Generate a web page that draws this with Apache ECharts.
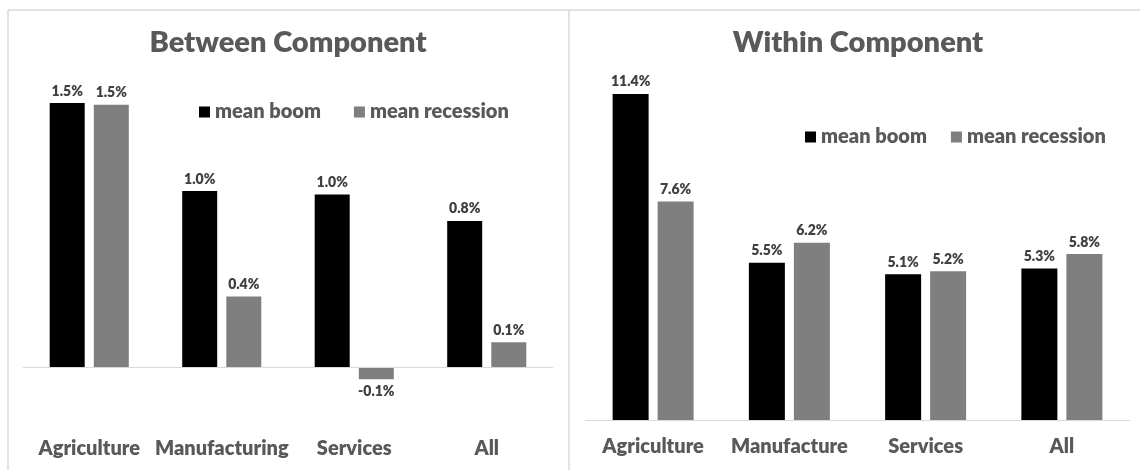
<!DOCTYPE html>
<html>
<head>
<meta charset="utf-8">
<script src="https://cdn.jsdelivr.net/npm/echarts@6/dist/echarts.min.js"></script>
<style>
  html, body { margin: 0; padding: 0; background: #ffffff; }
  #chart { width: 1140px; height: 470px; }
</style>
</head>
<body>
<div id="chart"></div>
<script>
// Between component: contribution of reallocation across sectors (%)
const betweenCategories = ['Agriculture', 'Manufacturing', 'Services', 'All'];
const betweenBoom = [1.50, 1.00, 0.98, 0.83];
const betweenRecession = [1.49, 0.40, -0.07, 0.14];

// Within component: productivity growth inside sectors (%)
const withinCategories = ['Agriculture', 'Manufacture', 'Services', 'All'];
const withinBoom = [11.4, 5.5, 5.1, 5.3];
const withinRecession = [7.64, 6.2, 5.2, 5.8];

const seriesNames = ['mean boom', 'mean recession'];
const titles = ['Between Component', 'Within Component'];

const FONT = 'Lato, "Open Sans", sans-serif';
const WEIGHT = 800;
const BOOM_COLOR = '#000000';
const RECESSION_COLOR = '#7f7f7f';
const TEXT_COLOR = '#595959';
const LABEL_COLOR = '#404040';
const RULE_COLOR = '#d9d9d9';

function barData(values) {
  return values.map(v => ({
    value: v,
    label: { position: v < 0 ? 'bottom' : 'top' }
  }));
}

function barSeries(name, values, color, axisIndex, width, gap, withBaseline) {
  const s = {
    name: name,
    type: 'bar',
    xAxisIndex: axisIndex,
    yAxisIndex: axisIndex,
    barWidth: width,
    barGap: gap,
    itemStyle: { color: color },
    label: {
      show: true,
      distance: 5,
      fontFamily: FONT,
      fontWeight: WEIGHT,
      fontSize: 14,
      color: LABEL_COLOR,
      formatter: p => p.value.toFixed(1) + '%'
    },
    data: barData(values)
  };
  if (withBaseline) {
    s.markLine = {
      silent: true,
      symbol: 'none',
      label: { show: false },
      lineStyle: { color: RULE_COLOR, width: 1, type: 'solid' },
      data: [{ yAxis: 0 }]
    };
  }
  return s;
}

function categoryAxis(cats, gridIndex, margin) {
  return {
    type: 'category',
    gridIndex: gridIndex,
    data: cats,
    axisLine: { show: false },
    axisTick: { show: false },
    axisLabel: {
      interval: 0,
      margin: margin,
      fontFamily: FONT,
      fontWeight: WEIGHT,
      fontSize: 20,
      color: TEXT_COLOR
    }
  };
}

function valueAxis(gridIndex, min, max) {
  return {
    type: 'value',
    gridIndex: gridIndex,
    min: min,
    max: max,
    show: false,
    splitLine: { show: false }
  };
}

function legendAt(left, top, gap) {
  return {
    left: left,
    top: top,
    padding: 0,
    icon: 'rect',
    itemWidth: 11,
    itemHeight: 11,
    itemGap: gap,
    selectedMode: false,
    textStyle: {
      fontFamily: FONT,
      fontWeight: WEIGHT,
      fontSize: 20,
      color: TEXT_COLOR
    },
    data: seriesNames
  };
}

function titleAt(text, centerX) {
  return {
    text: text,
    left: centerX,
    top: 28,
    padding: 0,
    textAlign: 'center',
    textStyle: {
      fontFamily: FONT,
      fontWeight: WEIGHT,
      fontSize: 29,
      color: TEXT_COLOR
    }
  };
}

const chart = echarts.init(document.getElementById('chart'), null, { renderer: 'canvas' });

chart.setOption({
  backgroundColor: '#ffffff',
  animation: false,
  title: [titleAt(titles[0], 288), titleAt(titles[1], 858)],
  legend: [legendAt(199, 102, 33), legendAt(805, 127, 24)],
  grid: [
    { left: 23, top: 85.4, width: 530, height: 343.2 },
    { left: 585, top: 76.8, width: 545, height: 343.2 }
  ],
  xAxis: [
    categoryAxis(betweenCategories, 0, 10),
    categoryAxis(withinCategories, 1, 17)
  ],
  yAxis: [
    valueAxis(0, -0.35, 1.6),
    valueAxis(1, 0, 12)
  ],
  series: [
    barSeries(seriesNames[0], betweenBoom, BOOM_COLOR, 0, 35, '26%', true),
    barSeries(seriesNames[1], betweenRecession, RECESSION_COLOR, 0, 35, '26%', false),
    barSeries(seriesNames[0], withinBoom, BOOM_COLOR, 1, 36, '25%', true),
    barSeries(seriesNames[1], withinRecession, RECESSION_COLOR, 1, 36, '25%', false)
  ],
  // panel frames
  graphic: [
    { type: 'line', silent: true, shape: { x1: 8, y1: 10, x2: 1140, y2: 10 }, style: { stroke: RULE_COLOR, lineWidth: 1.5 } },
    { type: 'line', silent: true, shape: { x1: 8, y1: 10, x2: 8, y2: 470 }, style: { stroke: RULE_COLOR, lineWidth: 1.5 } },
    { type: 'line', silent: true, shape: { x1: 569, y1: 10, x2: 569, y2: 470 }, style: { stroke: RULE_COLOR, lineWidth: 1.5 } }
  ]
});
</script>
</body>
</html>
